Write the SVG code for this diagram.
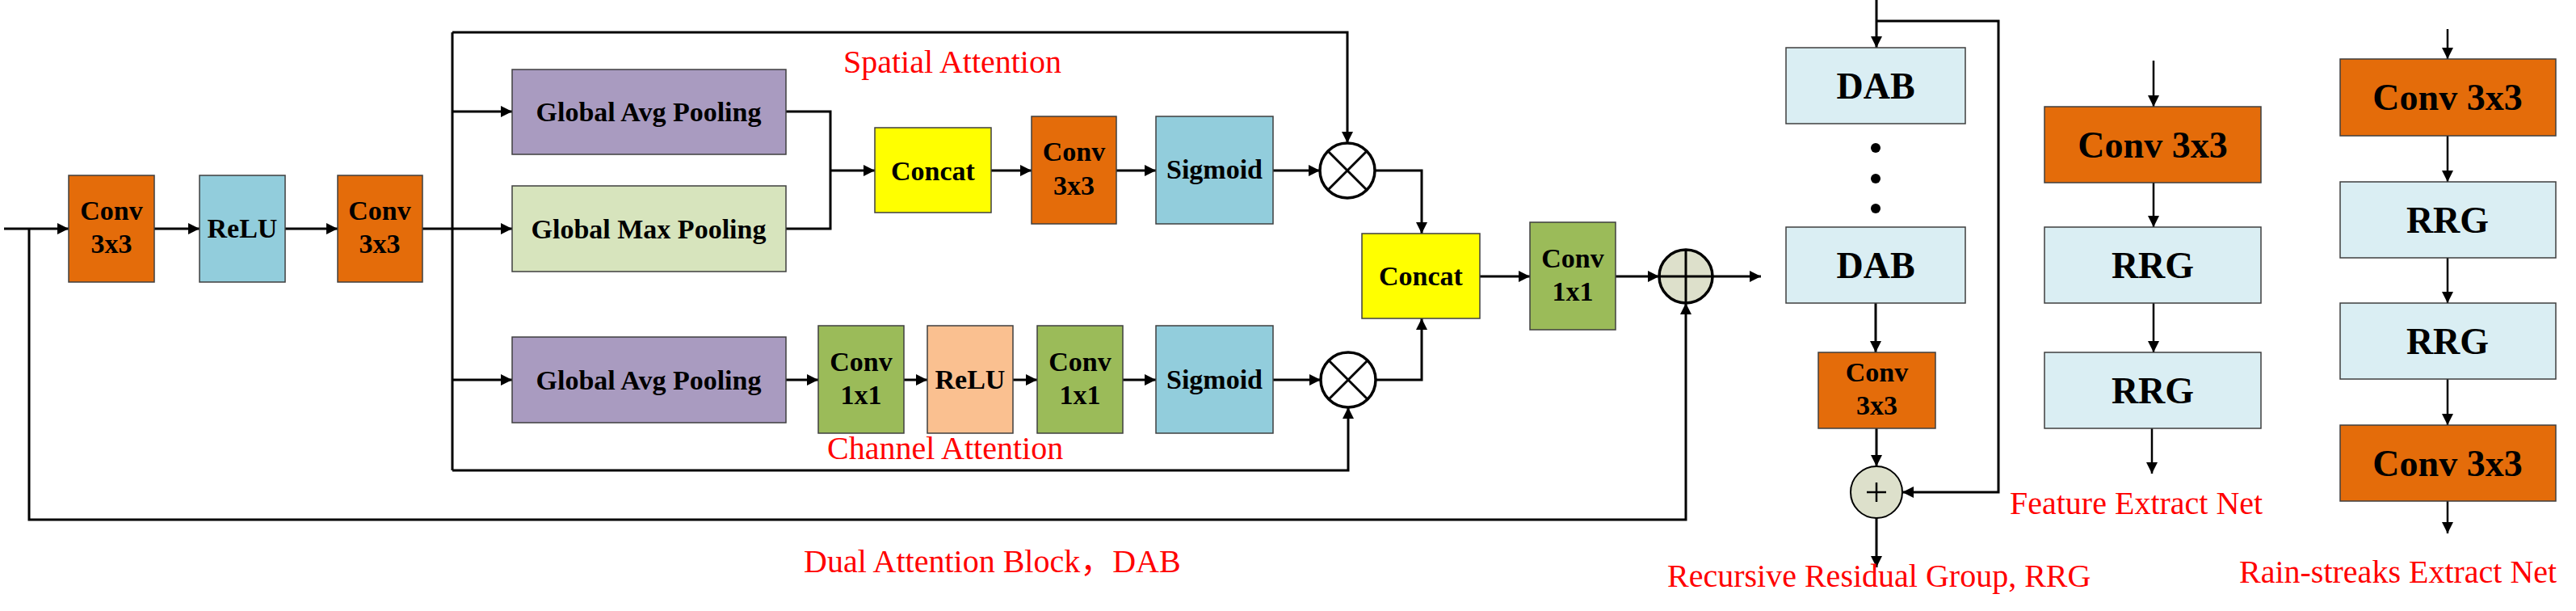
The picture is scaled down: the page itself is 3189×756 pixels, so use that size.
<svg xmlns="http://www.w3.org/2000/svg" width="3189" height="756" viewBox="0 0 3189 756">
<style>
.box{stroke:#3f3f3f;stroke-width:1.5}
.or{fill:#E46C0A}.bl{fill:#92CDDC}.pu{fill:#A99BC0}.lg{fill:#D7E4BD}.ye{fill:#FFFF00}.gr{fill:#9BBB59}.pe{fill:#FAC090}.lb{fill:#DAEEF3}
.t{font-family:"Liberation Serif","Times New Roman",serif;font-weight:bold;fill:#000;text-anchor:middle}
.s34{font-size:34px}.s46{font-size:46px}
.lab{font-family:"Liberation Serif","Times New Roman","Noto Sans CJK SC",serif;font-size:40px;fill:#FF0000}
.ln{fill:none;stroke:#000;stroke-width:3}
.ln2{fill:none;stroke:#000;stroke-width:2.5}
.op{fill:#fff;stroke:#000;stroke-width:3.5}
.opg{fill:#DDE0CB;stroke:#000;stroke-width:3.5}
</style>
<defs>
<marker id="ah" markerUnits="userSpaceOnUse" markerWidth="15" markerHeight="15" refX="14" refY="7" orient="auto" viewBox="0 0 15 15">
<path d="M0,0 L14,7 L0,14 z" fill="#000"/>
</marker>
</defs>
<rect width="3189" height="756" fill="#fff"/>
<g id="connectors">
<path class="ln" d="M5,283 H85" marker-end="url(#ah)"/>
<path class="ln" d="M191,283 H247" marker-end="url(#ah)"/>
<path class="ln" d="M353,283 H418" marker-end="url(#ah)"/>
<path class="ln" d="M523,283 H634" marker-end="url(#ah)"/>
<path class="ln" d="M560,40 V582"/>
<path class="ln" d="M560,138 H634" marker-end="url(#ah)"/>
<path class="ln" d="M560,470 H634" marker-end="url(#ah)"/>
<path class="ln" d="M560,40 H1668 V177" marker-end="url(#ah)"/>
<path class="ln" d="M560,582 H1669 V504" marker-end="url(#ah)"/>
<path class="ln" d="M973,138 H1028 V283 H973"/>
<path class="ln" d="M1028,211 H1083" marker-end="url(#ah)"/>
<path class="ln" d="M1227,211 H1277" marker-end="url(#ah)"/>
<path class="ln" d="M1382,211 H1431" marker-end="url(#ah)"/>
<path class="ln" d="M1576,211 H1634" marker-end="url(#ah)"/>
<path class="ln" d="M1702,211 H1760 V289" marker-end="url(#ah)"/>
<path class="ln" d="M973,470 H1013" marker-end="url(#ah)"/>
<path class="ln" d="M1119,470 H1148" marker-end="url(#ah)"/>
<path class="ln" d="M1254,470 H1284" marker-end="url(#ah)"/>
<path class="ln" d="M1390,470 H1431" marker-end="url(#ah)"/>
<path class="ln" d="M1576,470 H1635" marker-end="url(#ah)"/>
<path class="ln" d="M1703,470 H1760 V394" marker-end="url(#ah)"/>
<path class="ln" d="M1832,342 H1894" marker-end="url(#ah)"/>
<path class="ln" d="M2000,342 H2054" marker-end="url(#ah)"/>
<path class="ln" d="M2120,342 H2180" marker-end="url(#ah)"/>
<path class="ln" d="M36,283 V643 H2087 V375" marker-end="url(#ah)"/>
<path class="ln" d="M2323,0 V59" marker-end="url(#ah)"/>
<path class="ln" d="M2323,26 H2474 V609 H2355" marker-end="url(#ah)"/>
<path class="ln" d="M2322,375 V436" marker-end="url(#ah)"/>
<path class="ln" d="M2323,530 V577" marker-end="url(#ah)"/>
<path class="ln" d="M2323,641 V702" marker-end="url(#ah)"/>
<path class="ln2" d="M2666,75 V132" marker-end="url(#ah)"/>
<path class="ln2" d="M2666,226 V281" marker-end="url(#ah)"/>
<path class="ln2" d="M2666,375 V436" marker-end="url(#ah)"/>
<path class="ln2" d="M2664,530 V586" marker-end="url(#ah)"/>
<path class="ln2" d="M3030,36 V73" marker-end="url(#ah)"/>
<path class="ln2" d="M3030,168 V225" marker-end="url(#ah)"/>
<path class="ln2" d="M3030,319 V375" marker-end="url(#ah)"/>
<path class="ln2" d="M3030,469 V526" marker-end="url(#ah)"/>
<path class="ln2" d="M3030,620 V660" marker-end="url(#ah)"/>
</g>
<g id="conv1"><rect class="box or" x="85" y="217" width="106" height="132"/><text class="t s34" x="138" y="272">Conv</text><text class="t s34" x="138" y="313">3x3</text></g>
<g id="relu1"><rect class="box bl" x="247" y="217" width="106" height="132"/><text class="t s34" x="300" y="294">ReLU</text></g>
<g id="conv2"><rect class="box or" x="418" y="217" width="105" height="132"/><text class="t s34" x="470" y="272">Conv</text><text class="t s34" x="470" y="313">3x3</text></g>
<g id="gap1"><rect class="box pu" x="634" y="86" width="339" height="105"/><text class="t s34" x="803" y="150">Global Avg Pooling</text></g>
<g id="gmp"><rect class="box lg" x="634" y="230" width="339" height="106"/><text class="t s34" x="803" y="295">Global Max Pooling</text></g>
<g id="concat1"><rect class="box ye" x="1083" y="158" width="144" height="105"/><text class="t s34" x="1155" y="223">Concat</text></g>
<g id="conv3"><rect class="box or" x="1277" y="144" width="105" height="133"/><text class="t s34" x="1329.5" y="199">Conv</text><text class="t s34" x="1329.5" y="241">3x3</text></g>
<g id="sigmoid1"><rect class="box bl" x="1431" y="144" width="145" height="133"/><text class="t s34" x="1503.5" y="221">Sigmoid</text></g>
<g id="mul1"><circle class="op" cx="1668" cy="211" r="34"/><path class="ln" d="M1644,187 L1692,235 M1692,187 L1644,235"/></g>
<g id="gap2"><rect class="box pu" x="634" y="417" width="339" height="106"/><text class="t s34" x="803" y="482">Global Avg Pooling</text></g>
<g id="conv1x1a"><rect class="box gr" x="1013" y="403" width="106" height="133"/><text class="t s34" x="1066" y="459">Conv</text><text class="t s34" x="1066" y="500">1x1</text></g>
<g id="relu2"><rect class="box pe" x="1148" y="403" width="106" height="133"/><text class="t s34" x="1201" y="481">ReLU</text></g>
<g id="conv1x1b"><rect class="box gr" x="1284" y="403" width="106" height="133"/><text class="t s34" x="1337" y="459">Conv</text><text class="t s34" x="1337" y="500">1x1</text></g>
<g id="sigmoid2"><rect class="box bl" x="1431" y="403" width="145" height="133"/><text class="t s34" x="1503.5" y="481">Sigmoid</text></g>
<g id="mul2"><circle class="op" cx="1669" cy="470" r="34"/><path class="ln" d="M1645,446 L1693,494 M1693,446 L1645,494"/></g>
<g id="concat2"><rect class="box ye" x="1686" y="289" width="146" height="105"/><text class="t s34" x="1759" y="353">Concat</text></g>
<g id="conv1x1c"><rect class="box gr" x="1894" y="275" width="106" height="133"/><text class="t s34" x="1947" y="331">Conv</text><text class="t s34" x="1947" y="372">1x1</text></g>
<g id="add1"><circle class="opg" cx="2087" cy="342" r="33"/><path class="ln" d="M2054,342 H2120 M2087,309 V375"/></g>
<g id="dab1"><rect class="box lb" x="2211" y="59" width="222" height="94"/><text class="t s46" x="2322" y="122">DAB</text></g>
<g id="dots"><circle cx="2322" cy="183" r="6"/><circle cx="2322" cy="221" r="6"/><circle cx="2322" cy="258" r="6"/></g>
<g id="dab2"><rect class="box lb" x="2211" y="281" width="222" height="94"/><text class="t s46" x="2322" y="344">DAB</text></g>
<g id="conv_rrg"><rect class="box or" x="2251" y="436" width="145" height="94"/><text class="t s34" x="2323.5" y="472">Conv</text><text class="t s34" x="2323.5" y="513">3x3</text></g>
<g id="add2"><circle class="opg" cx="2323" cy="609" r="32" style="stroke-width:2"/><path class="ln" d="M2311,609 H2335 M2323,597 V621" style="stroke-width:2.5"/></g>
<g id="f_conv"><rect class="box or" x="2531" y="132" width="268" height="94"/><text class="t s46" x="2665" y="195">Conv 3x3</text></g>
<g id="f_rrg1"><rect class="box lb" x="2531" y="281" width="268" height="94"/><text class="t s46" x="2665" y="344">RRG</text></g>
<g id="f_rrg2"><rect class="box lb" x="2531" y="436" width="268" height="94"/><text class="t s46" x="2665" y="499">RRG</text></g>
<g id="r_conv1"><rect class="box or" x="2897" y="73" width="267" height="95"/><text class="t s46" x="3030" y="136">Conv 3x3</text></g>
<g id="r_rrg1"><rect class="box lb" x="2897" y="225" width="267" height="94"/><text class="t s46" x="3030" y="288">RRG</text></g>
<g id="r_rrg2"><rect class="box lb" x="2897" y="375" width="267" height="94"/><text class="t s46" x="3030" y="438">RRG</text></g>
<g id="r_conv2"><rect class="box or" x="2897" y="526" width="267" height="94"/><text class="t s46" x="3030" y="589">Conv 3x3</text></g>
<g id="labels">
<text class="lab" x="1044" y="90">Spatial Attention</text>
<text class="lab" x="1024" y="568">Channel Attention</text>
<text class="lab" x="995" y="708">Dual Attention Block，DAB</text>
<text class="lab" x="2064" y="726">Recursive Residual Group, RRG</text>
<text class="lab" x="2488" y="636">Feature Extract Net</text>
<text class="lab" x="2772" y="721">Rain-streaks Extract Net</text>
</g>
</svg>
